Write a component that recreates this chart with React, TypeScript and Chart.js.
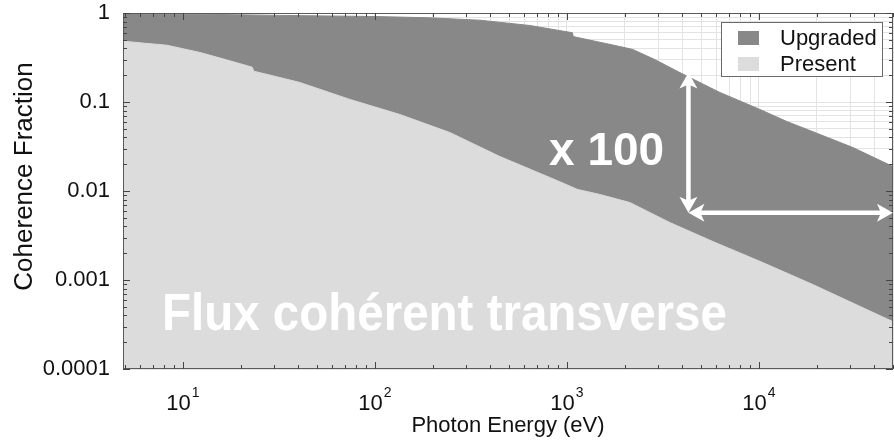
import React, { useEffect, useRef } from "react";
import { Chart, registerables } from "chart.js";

Chart.register(...registerables);

// Coherent fraction versus photon energy (eV) for the present source
const presentEnergy = [4.88, 6.3, 8.25, 12.3, 17.6, 23.0, 23.4, 30, 40.6, 74.1, 135, 246, 448, 815, 1140, 1486, 2128, 3436, 5754, 10490, 19100, 50000];
const presentFraction = [0.482, 0.458, 0.435, 0.36, 0.29, 0.246, 0.222, 0.195, 0.166, 0.107, 0.0724, 0.0454, 0.0244, 0.0142, 0.0104, 0.00914, 0.00743, 0.00443, 0.00271, 0.00157, 0.00089, 0.00034];

// Coherent fraction for the upgraded source
const upgradedEnergy = [4.88, 12.3, 32, 100, 193, 352, 641, 1070, 1080, 1140, 1888, 2208, 2870, 3880, 6270, 10120, 14000, 20800, 30900, 50000];
const upgradedFraction = [0.975, 0.97, 0.94, 0.913, 0.883, 0.83, 0.724, 0.6, 0.545, 0.53, 0.42, 0.389, 0.3, 0.214, 0.128, 0.0826, 0.0604, 0.0432, 0.0308, 0.0188];

// Axis ticks
const xMajorTicks = [10, 100, 1000, 10000];
const xTickExponents = ["1", "2", "3", "4"];
const yMajorTicks = [1, 0.1, 0.01, 0.001, 0.0001];
const yTickLabels = ["1", "0.1", "0.01", "0.001", "0.0001"];

const X_MIN = 4.88;
const X_MAX = 50000;
const Y_MIN = 0.0001;
const Y_MAX = 1;

// Gain annotation: vertical span at one energy, horizontal span up to the end of the range
const gainEnergy = 4300;
const gainTop = 0.215;
const gainBottom = 0.0057;
const gainLabel = "x 100";
const gainLabelAnchor = { x: 808, y: 0.0196 };
const bannerText = "Flux cohérent transverse";
const bannerAnchor = { x: 7.79, y: 0.000274 };

const DARK = "#888888";
const LIGHT = "#dcdcdc";
const FONT = "'Liberation Sans', Arial, Helvetica, sans-serif";

function logTicks(min: number, max: number) {
  const out: { value: number; major: boolean }[] = [];
  const e0 = Math.floor(Math.log10(min));
  const e1 = Math.ceil(Math.log10(max));
  for (let e = e0; e <= e1; e++) {
    for (let s = 1; s <= 9; s++) {
      const v = parseFloat((s * Math.pow(10, e)).toPrecision(6));
      if (v >= min * 0.9999 && v <= max * 1.0001) out.push({ value: v, major: s === 1 });
    }
  }
  return out;
}

function arrowHead(ctx: CanvasRenderingContext2D, tx: number, ty: number, dx: number, dy: number, len: number, half: number) {
  const bx = tx - dx * len;
  const by = ty - dy * len;
  const nx = -dy;
  const ny = dx;
  ctx.beginPath();
  ctx.moveTo(tx, ty);
  ctx.lineTo(bx + nx * half, by + ny * half);
  ctx.lineTo(tx - dx * (len - 4), ty - dy * (len - 4));
  ctx.lineTo(bx - nx * half, by - ny * half);
  ctx.closePath();
  ctx.fill();
}

const decorPlugin = {
  id: "decor",
  afterDatasetsDraw(chart: any) {
    const { ctx, chartArea: a } = chart;
    const xs = chart.scales.x;
    const ys = chart.scales.y;
    ctx.save();

    // frame
    ctx.strokeStyle = "#5a5a5a";
    ctx.lineWidth = 1;
    ctx.strokeRect(a.left + 0.5, a.top + 0.5, a.right - a.left - 1, a.bottom - a.top - 1);

    // inward tick marks on all four sides
    ctx.strokeStyle = "#444";
    ctx.beginPath();
    for (const t of xs.ticks) {
      const px = Math.round(xs.getPixelForValue(t.value)) + 0.5;
      const len = t.major ? 7 : 4;
      ctx.moveTo(px, a.bottom);
      ctx.lineTo(px, a.bottom - len);
      ctx.moveTo(px, a.top);
      ctx.lineTo(px, a.top + len);
    }
    for (const t of ys.ticks) {
      const py = Math.round(ys.getPixelForValue(t.value)) + 0.5;
      const len = t.major ? 7 : 4;
      ctx.moveTo(a.left, py);
      ctx.lineTo(a.left + len, py);
      ctx.moveTo(a.right, py);
      ctx.lineTo(a.right - len, py);
    }
    ctx.stroke();

    // gain arrows
    const vx = xs.getPixelForValue(gainEnergy);
    const vTop = ys.getPixelForValue(gainTop);
    const vBot = ys.getPixelForValue(gainBottom);
    const hRight = xs.getPixelForValue(X_MAX);
    ctx.fillStyle = "#ffffff";
    ctx.strokeStyle = "#ffffff";
    ctx.lineWidth = 4.5;
    ctx.beginPath();
    ctx.moveTo(vx, vTop + 10);
    ctx.lineTo(vx, vBot - 10);
    ctx.moveTo(vx + 10, vBot);
    ctx.lineTo(hRight - 10, vBot);
    ctx.stroke();
    arrowHead(ctx, vx, vTop, 0, -1, 16, 9);
    arrowHead(ctx, vx, vBot, 0, 1, 16, 9);
    arrowHead(ctx, vx, vBot, -1, 0, 16, 9);
    arrowHead(ctx, hRight, vBot, 1, 0, 16, 9);

    // white labels
    ctx.textAlign = "left";
    ctx.textBaseline = "alphabetic";
    ctx.font = `bold 46px ${FONT}`;
    ctx.fillText(gainLabel, xs.getPixelForValue(gainLabelAnchor.x), ys.getPixelForValue(gainLabelAnchor.y));

    ctx.save();
    ctx.translate(xs.getPixelForValue(bannerAnchor.x), ys.getPixelForValue(bannerAnchor.y));
    ctx.scale(1, 1.08);
    ctx.font = `bold 47.5px ${FONT}`;
    ctx.fillText(bannerText, 0, 0);
    ctx.restore();

    // legend
    const lx = a.right - 172;
    const ly = a.top + 9;
    ctx.fillStyle = "#ffffff";
    ctx.fillRect(lx, ly, 162, 55);
    ctx.strokeStyle = "#6a6a6a";
    ctx.lineWidth = 1;
    ctx.strokeRect(lx + 0.5, ly + 0.5, 161, 54);
    ctx.font = `22px ${FONT}`;
    const order = [1, 0];
    order.forEach((di, row) => {
      const ds = chart.data.datasets[di];
      const base = ly + 23 + row * 26;
      ctx.fillStyle = ds.backgroundColor;
      ctx.fillRect(lx + 17, base - 14, 21, 14);
      ctx.fillStyle = "#111";
      ctx.fillText(ds.label, lx + 59, base);
    });

    // x tick labels as powers of ten
    ctx.fillStyle = "#111";
    xMajorTicks.forEach((v, i) => {
      const px = xs.getPixelForValue(v);
      ctx.font = `22px ${FONT}`;
      const wb = ctx.measureText("10").width;
      ctx.font = `14px ${FONT}`;
      const we = ctx.measureText(xTickExponents[i]).width;
      const start = px - (wb + 1 + we) / 2;
      ctx.font = `22px ${FONT}`;
      ctx.fillText("10", start, a.bottom + 41);
      ctx.font = `14px ${FONT}`;
      ctx.fillText(xTickExponents[i], start + wb + 1, a.bottom + 28);
    });

    // axis titles
    ctx.font = `22px ${FONT}`;
    ctx.textAlign = "center";
    ctx.fillText("Photon Energy (eV)", (a.left + a.right) / 2, a.bottom + 63);
    ctx.save();
    ctx.translate(31.5, a.top + 163.5);
    ctx.rotate(-Math.PI / 2);
    ctx.font = `26px ${FONT}`;
    ctx.fillText("Coherence Fraction", 0, 0);
    ctx.restore();

    ctx.restore();
  },
};

export default function App() {
  const ref = useRef<HTMLCanvasElement>(null);

  useEffect(() => {
    const canvas = ref.current;
    if (!canvas) return;
    const chart = new Chart(canvas, {
      type: "line",
      data: {
        datasets: [
          {
            label: "Present",
            data: presentEnergy.map((x, i) => ({ x, y: presentFraction[i] })),
            backgroundColor: LIGHT,
            borderColor: LIGHT,
            borderWidth: 1,
            pointRadius: 0,
            tension: 0,
            fill: "start",
          },
          {
            label: "Upgraded",
            data: upgradedEnergy.map((x, i) => ({ x, y: upgradedFraction[i] })),
            backgroundColor: DARK,
            borderColor: DARK,
            borderWidth: 1,
            pointRadius: 0,
            tension: 0,
            fill: "start",
          },
        ],
      },
      options: {
        animation: false,
        responsive: false,
        devicePixelRatio: 1,
        layout: { padding: { top: 13, right: 1, bottom: 0, left: 0 } },
        plugins: {
          legend: { display: false },
          tooltip: { enabled: false },
        },
        scales: {
          x: {
            type: "logarithmic",
            min: X_MIN,
            max: X_MAX,
            afterBuildTicks: (scale: any) => {
              scale.ticks = logTicks(X_MIN, X_MAX);
            },
            afterFit: (scale: any) => {
              scale.height = 72;
              scale.paddingLeft = 0;
              scale.paddingRight = 0;
            },
            grid: { color: "#e3e3e3", lineWidth: 1, drawTicks: false },
            border: { display: false },
            ticks: { display: false, autoSkip: false },
          },
          y: {
            type: "logarithmic",
            min: Y_MIN,
            max: Y_MAX,
            afterBuildTicks: (scale: any) => {
              scale.ticks = logTicks(Y_MIN, Y_MAX);
            },
            afterFit: (scale: any) => {
              scale.width = 123;
              scale.paddingTop = 0;
              scale.paddingBottom = 0;
            },
            grid: { color: "#e3e3e3", lineWidth: 1, drawTicks: false },
            border: { display: false },
            ticks: {
              autoSkip: false,
              padding: 13,
              color: "#111",
              font: { family: FONT, size: 22 },
              callback: (value: any) => {
                const v = Number(value);
                const i = yMajorTicks.findIndex((m) => Math.abs(Math.log10(m) - Math.log10(v)) < 1e-6);
                return i >= 0 ? yTickLabels[i] : "";
              },
            },
          },
        },
      },
      plugins: [decorPlugin],
    } as any);
    return () => chart.destroy();
  }, []);

  return (
    <div style={{ position: "fixed", left: 0, top: 0, width: 894, height: 441, background: "#ffffff" }}>
      <canvas ref={ref} width={894} height={441} style={{ display: "block", width: 894, height: 441 }} />
    </div>
  );
}
